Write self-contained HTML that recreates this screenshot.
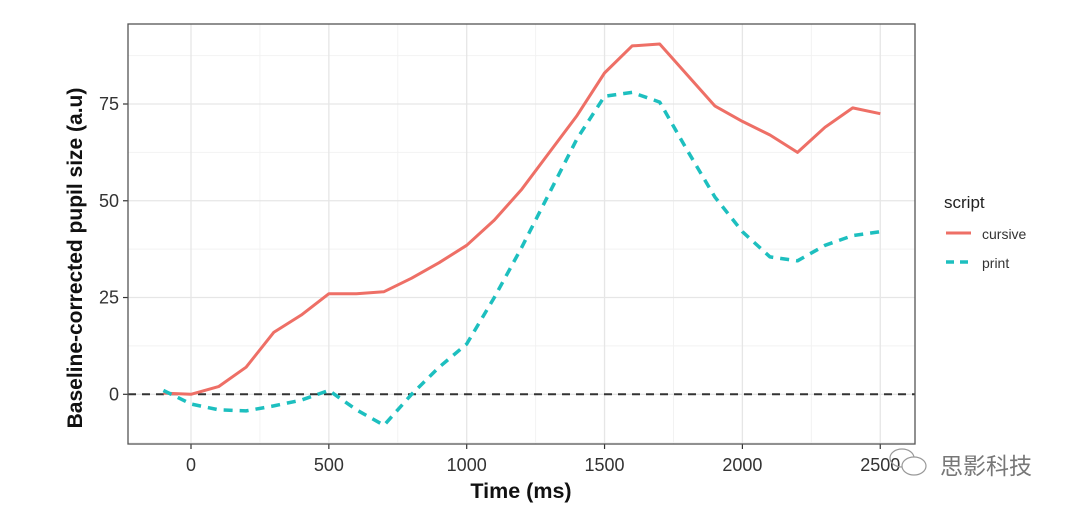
<!DOCTYPE html>
<html><head><meta charset="utf-8">
<style>
body{margin:0;background:#fff;width:1080px;height:512px;overflow:hidden;font-family:"Liberation Sans",Arial,sans-serif;}
svg{display:block}
</style></head>
<body>
<svg id="chart" width="1080" height="512" xmlns="http://www.w3.org/2000/svg">
  <g id="grid"></g>
  <g id="series"></g>
  <g id="axes"></g>
  <text x="521" y="498" text-anchor="middle" font-size="21.5" font-weight="bold" fill="#111">Time (ms)</text>
  <text transform="translate(82,258) rotate(-90)" text-anchor="middle" font-size="21" font-weight="bold" fill="#111">Baseline-corrected pupil size (a.u)</text>
  <g>
    <text x="944" y="208" font-size="17" fill="#222">script</text>
    <g>
      <line x1="946" y1="233" x2="971" y2="233" stroke="#EE6F66" stroke-width="3"/>
      <text x="982" y="239" font-size="14" fill="#333">cursive</text>
    </g>
    <g>
      <line x1="946" y1="262" x2="971" y2="262" stroke="#1DBFBF" stroke-width="3.5" stroke-dasharray="8,6"/>
      <text x="982" y="268" font-size="14" fill="#333">print</text>
    </g>
  </g>
  <g>
    <ellipse cx="902" cy="458" rx="12" ry="9" fill="none" stroke="#999" stroke-width="1.2"/>
    <ellipse cx="914" cy="466" rx="12" ry="9" fill="#fff" stroke="#999" stroke-width="1.2"/>
    <text x="940" y="474" font-size="23" fill="#777" font-family="'Liberation Sans','Noto Sans CJK SC',sans-serif">思影科技</text>
  </g>
</svg>
<script>
const times = [-100,0,100,200,300,400,500,600,700,800,900,1000,1100,1200,1300,1400,1500,1600,1700,1800,1900,2000,2100,2200,2300,2400,2500];
const cursive = [0.3,0,2,7,16,20.5,26,26,26.5,30,34,38.5,45,53,62.5,72,83,90,90.5,82.5,74.5,70.5,67,62.5,69,74,72.5];
const print = [1,-2.5,-4,-4.3,-3,-1.5,1,-4,-8,0,7,13,25,38,52,66,77,78,75.5,63,51,42,35.5,34.5,38.5,41,42];
const xTicks = [0,500,1000,1500,2000,2500];
const xTickLabels = ["0","500","1000","1500","2000","2500"];
const yTicks = [0,25,50,75];
const yTickLabels = ["0","25","50","75"];

const NS="http://www.w3.org/2000/svg";
const PL=128,PT=24,PR=915,PB=444;
function xs(t){return 191+(t-0)*(466.7-191)/1000;}
function ys(v){return 394.3-v*(394.3-104)/75;}
function mk(tag,attrs,parent){const e=document.createElementNS(NS,tag);for(const k in attrs)e.setAttribute(k,attrs[k]);parent.appendChild(e);return e;}

const grid=document.getElementById('grid');
const axes=document.getElementById('axes');
const series=document.getElementById('series');
for(let i=0;i<xTicks.length;i++){
  const m=xTicks[i]+250;
  if(xs(m)<PR){const l=mk('line',{x1:xs(m),x2:xs(m),y1:PT,y2:PB,stroke:'#f2f2f2','stroke-width':1},grid);
  
  }
  const mm=xTicks[i]-250;
  if(i===0&&xs(mm)>PL){const l=mk('line',{x1:xs(mm),x2:xs(mm),y1:PT,y2:PB,stroke:'#f2f2f2','stroke-width':1},grid);
  
  }
}
for(let v=-12.5;v<=100;v+=25){
  const y=ys(v); if(y<PT||y>PB) continue;
  const l=mk('line',{x1:PL,x2:PR,y1:y,y2:y,stroke:'#f2f2f2','stroke-width':1},grid);
  
  
}
xTicks.forEach((t,i)=>{
  const x=xs(t);
  const l=mk('line',{x1:x,x2:x,y1:PT,y2:PB,stroke:'#e6e6e6','stroke-width':1.3},grid);
  
  
  const tk=mk('line',{x1:x,x2:x,y1:PB,y2:PB+5,stroke:'#333','stroke-width':1.2},axes);
  
  
  const tx=mk('text',{x:x,y:PB+27,'text-anchor':'middle','font-size':18,fill:'#333'},axes);
  tx.textContent=xTickLabels[i];
  
  
});
yTicks.forEach((v,i)=>{
  const y=ys(v);
  const l=mk('line',{x1:PL,x2:PR,y1:y,y2:y,stroke:'#e6e6e6','stroke-width':1.3},grid);
  
  
  const tk=mk('line',{x1:PL-5,x2:PL,y1:y,y2:y,stroke:'#333','stroke-width':1.2},axes);
  
  
  const tx=mk('text',{x:PL-9,y:y+6,'text-anchor':'end','font-size':18,fill:'#333'},axes);
  tx.textContent=yTickLabels[i];
  
  
});
const frame=mk('rect',{x:PL,y:PT,width:PR-PL,height:PB-PT,fill:'none',stroke:'#555','stroke-width':1.3},axes);


const zl=mk('line',{x1:PL,x2:PR,y1:ys(0),y2:ys(0),stroke:'#333','stroke-width':2,'stroke-dasharray':'8,6'},series);


function pts(arr){return arr.map((v,i)=>xs(times[i]).toFixed(1)+','+ys(v).toFixed(1)).join(' ');}
const c=mk('polyline',{points:pts(cursive),fill:'none',stroke:'#EE6F66','stroke-width':3,'stroke-linejoin':'round'},series);


const p=mk('polyline',{points:pts(print),fill:'none',stroke:'#1DBFBF','stroke-width':3.5,'stroke-dasharray':'9,7','stroke-linejoin':'round'},series);


</script>
</body></html>
